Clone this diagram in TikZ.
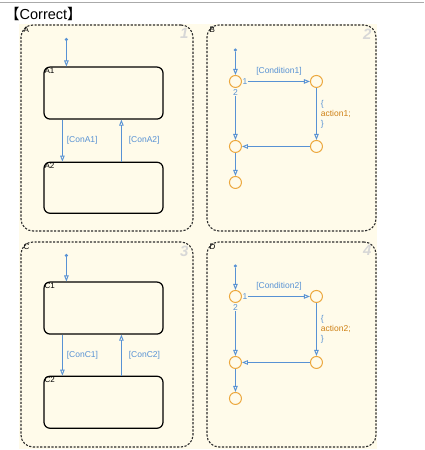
\documentclass[tikz,border=0pt]{standalone}
\usepackage{fontspec}
\setmainfont{Liberation Sans}
\newfontfamily\cjkfont{Noto Sans CJK JP}
\usepackage{tikz}
\usetikzlibrary{arrows.meta,positioning,calc}
\definecolor{sfcream}{RGB}{255,251,234}
\definecolor{sfborder}{RGB}{45,45,45}
\definecolor{trblue}{RGB}{88,146,212}
\definecolor{jnorange}{RGB}{236,168,62}
\definecolor{actorange}{RGB}{206,128,20}
\definecolor{numgray}{RGB}{215,215,215}
\definecolor{rulegray}{RGB}{170,170,170}
\tikzset{
  panel/.style={draw=sfborder,line width=1.1pt,dash pattern=on 2.2pt off 1.5pt,
                rounded corners=12pt,inner sep=0pt},
  st/.style={draw=black,line width=1.2pt,rounded corners=6pt,inner sep=0pt,
             minimum width=119pt,minimum height=52pt},
  jn/.style={circle,draw=jnorange,line width=1pt,minimum size=12pt,inner sep=0pt},
  dflt/.style={circle,fill=trblue,minimum size=3.5pt,inner sep=0pt},
  tr/.style={-{Triangle[open,length=6pt,width=4.5pt]},draw=trblue,line width=0.9pt},
  lbl/.style={font=\fontsize{8.5}{10}\selectfont,text=trblue,inner sep=1pt},
  sname/.style={font=\fontsize{8}{9}\selectfont,inner sep=0pt,anchor=north west},
  pnum/.style={font=\fontsize{15}{16}\selectfont\bfseries\itshape,text=numgray,
               inner sep=0pt,anchor=north east},
}

\begin{document}
\begin{tikzpicture}[x=1pt,y=-1pt]
\useasboundingbox (0,0) rectangle (424,450);
\fill[sfcream] (19,24) rectangle (377,449);
\draw[rulegray,line width=1pt] (0,2) -- (424,2);
\node[anchor=west,inner sep=0pt,font=\fontsize{14.5}{16}\selectfont] (title) at (5,14)
  {{\cjkfont 【}Correct{\cjkfont 】}};
% chart panels
\node[panel,minimum width=172pt,minimum height=206pt] (A) at (107,128) {};
\node[panel,minimum width=169pt,minimum height=206pt] (B) at (291.5,128) {};
\node[panel,minimum width=172pt,minimum height=205pt] (C) at (107,344.5) {};
\node[panel,minimum width=169pt,minimum height=205pt] (D) at (291.5,344.5) {};
\node[sname] (Aname) at ([shift={(3pt,-2pt)}]A.north west) {A};
\node[sname] (Bname) at ([shift={(3pt,-2pt)}]B.north west) {B};
\node[sname] (Cname) at ([shift={(3pt,-2pt)}]C.north west) {C};
\node[sname] (Dname) at ([shift={(3pt,-2pt)}]D.north west) {D};
\node[pnum] (Anum) at ([shift={(-5pt,-4pt)}]A.north east) {1};
\node[pnum] (Bnum) at ([shift={(-5pt,-4pt)}]B.north east) {2};
\node[pnum] (Cnum) at ([shift={(-5pt,-4pt)}]C.north east) {3};
\node[pnum] (Dnum) at ([shift={(-5pt,-4pt)}]D.north east) {4};
% chart A: two states
\node[st,anchor=north] (A1) at ($(A.north)+(-3.5,42)$) {};
\node[st,anchor=north,minimum height=51pt] (A2) at ($(A1.south)+(0,42)$) {};
\node[sname] (A1name) at ([shift={(1pt,-1pt)}]A1.north west) {A1};
\node[sname] (A2name) at ([shift={(1pt,-1pt)}]A2.north west) {A2};
\node[dflt] (A0) at ($(A1.north west)+(23,-27)$) {};
\draw[tr] (A0) -- (A0 |- A1.north);
\draw[tr] ([xshift=19pt]A1.south west) -- ([xshift=19pt]A2.north west)
  node[lbl,midway,right=3pt] (ConA1) {[ConA1]};
\draw[tr] ([xshift=78pt]A2.north west) -- ([xshift=78pt]A1.south west)
  node[lbl,midway,right=6pt] (ConA2) {[ConA2]};
% chart B: junctions
\node[jn] (B1) at ($(B.north west)+(29,57)$) {};
\node[jn,right=68pt of B1] (B2) {};
\node[jn,below=52pt of B1] (B4) {};
\node[jn] (B3) at (B2 |- B4) {};
\node[jn,below=23pt of B4] (B5) {};
\node[dflt,above=23pt of B1] (B0) {};
\draw[tr] (B0) -- (B1);
\node[lbl,right=-0.5pt of B1] (B1o) {1};
\draw[tr] ([xshift=6pt]B1.east) -- (B2.west)
  node[lbl,midway,above=5pt] (CondB) {[Condition1]};
\draw[tr] (B1) -- (B4) node[lbl,pos=0,below=0pt,fill=sfcream] (B1t) {2};
\draw[tr] (B2) -- (B3)
  node[lbl,midway,right=3pt,align=left] (ActB) {\{\\\textcolor{actorange}{action1;}\\\}};
\draw[tr] (B3) -- (B4);
\draw[tr] (B4) -- (B5);
% chart C: two states
\node[st,anchor=north] (C1) at ($(C.north)+(-3.5,40)$) {};
\node[st,anchor=north] (C2) at ($(C1.south)+(0,41)$) {};
\node[sname] (C1name) at ([shift={(1pt,-1pt)}]C1.north west) {C1};
\node[sname] (C2name) at ([shift={(1pt,-1pt)}]C2.north west) {C2};
\node[dflt] (C0) at ($(C1.north west)+(23,-26)$) {};
\draw[tr] (C0) -- (C0 |- C1.north);
\draw[tr] ([xshift=19pt]C1.south west) -- ([xshift=19pt]C2.north west)
  node[lbl,midway,right=3pt] (ConC1) {[ConC1]};
\draw[tr] ([xshift=78pt]C2.north west) -- ([xshift=78pt]C1.south west)
  node[lbl,midway,right=6pt] (ConC2) {[ConC2]};
% chart D: junctions
\node[jn] (D1) at ($(D.north west)+(29,55)$) {};
\node[jn,right=68pt of D1] (D2) {};
\node[jn,below=53pt of D1] (D4) {};
\node[jn] (D3) at (D2 |- D4) {};
\node[jn,below=23pt of D4] (D5) {};
\node[dflt,above=22pt of D1] (D0) {};
\draw[tr] (D0) -- (D1);
\node[lbl,right=-0.5pt of D1] (D1o) {1};
\draw[tr] ([xshift=6pt]D1.east) -- (D2.west)
  node[lbl,midway,above=5pt] (CondD) {[Condition2]};
\draw[tr] (D1) -- (D4) node[lbl,pos=0,below=0pt,fill=sfcream] (D1t) {2};
\draw[tr] (D2) -- (D3)
  node[lbl,midway,right=3pt,align=left] (ActD) {\{\\\textcolor{actorange}{action2;}\\\}};
\draw[tr] (D3) -- (D4);
\draw[tr] (D4) -- (D5);
\end{tikzpicture}
\end{document}
